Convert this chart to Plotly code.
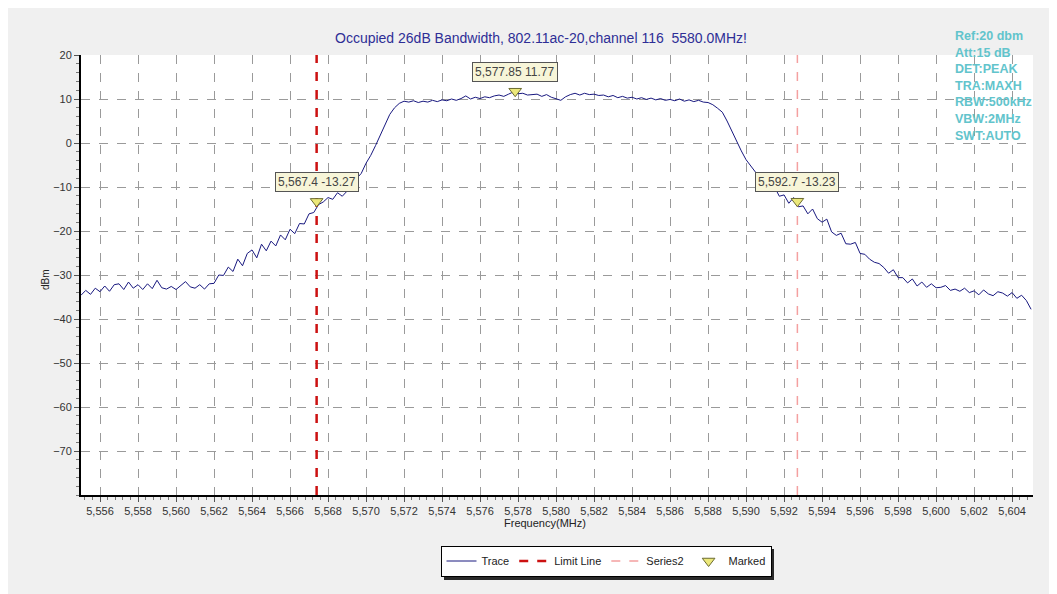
import plotly.graph_objects as go

# ---- data ----
freq_start = 5555.0
freq_step = 0.25
trace_dbm = [
    -34.6, -33.5, -34.4, -33.0,   # 5555
    -33.8, -32.5, -33.7, -32.2,   # 5556
    -32.0, -33.3, -31.6, -33.0,   # 5557
    -32.2, -33.3, -32.0, -33.1,   # 5558
    -31.2, -32.9, -33.2, -32.6,   # 5559
    -33.3, -32.4, -31.5, -32.7,   # 5560
    -33.0, -32.2, -33.2, -32.0,   # 5561
    -31.9, -30.0, -30.1, -28.2,   # 5562
    -29.2, -26.4, -27.9, -25.1,   # 5563
    -24.3, -26.1, -23.0, -24.5,   # 5564
    -22.3, -23.4, -20.9, -22.0,   # 5565
    -19.6, -20.6, -18.3, -18.4,   # 5566
    -16.1, -15.8, -14.0, -13.4,   # 5567
    -12.4, -12.8, -11.3, -12.1,   # 5568
    -11.0, -9.8, -8.1, -6.9,      # 5569
    -4.6, -2.8, -0.6, 1.8,        # 5570
    4.2, 6.5, 8.0, 9.0,           # 5571
    9.5, 9.3, 9.6, 9.2,           # 5572
    9.5, 9.3, 9.7, 9.4,           # 5573
    9.8, 9.6, 10.0, 9.7,          # 5574
    10.1, 10.7, 10.0, 10.4,       # 5575
    10.1, 10.5, 10.3, 10.7,       # 5576
    10.9, 10.6, 11.1, 11.6,       # 5577
    11.2, 11.3, 10.9, 11.0,       # 5578
    11.1, 10.6, 11.0, 10.4,       # 5579
    10.1, 9.7, 10.5, 11.0,        # 5580
    11.3, 10.9, 11.3, 11.0,       # 5581
    11.1, 10.8, 10.9, 10.5,       # 5582
    10.8, 10.3, 10.6, 10.2,       # 5583
    10.4, 10.0, 10.3, 9.9,        # 5584
    10.2, 9.8, 10.1, 9.7,         # 5585
    9.9, 9.6, 10.0, 9.5,          # 5586
    9.8, 9.4, 9.7, 9.3,           # 5587
    9.2, 8.7, 7.9, 7.0,           # 5588
    5.0, 2.6, 0.2, -1.8,          # 5589
    -3.8, -5.2, -6.6, -7.9,       # 5590
    -9.3, -10.9, -10.0, -12.1,    # 5591
    -11.8, -13.7, -12.4, -14.5,   # 5592
    -14.3, -16.1, -15.0, -17.2,   # 5593
    -18.0, -17.3, -20.2, -21.0,   # 5594
    -20.5, -22.9, -23.0, -22.6,   # 5595
    -25.1, -25.3, -26.4, -27.1,   # 5596
    -27.4, -28.3, -29.6, -28.8,   # 5597
    -30.6, -30.6, -31.8, -30.9,   # 5598
    -32.5, -31.6, -32.8, -32.0,   # 5599
    -32.9, -32.8, -32.4, -33.5,   # 5600
    -33.2, -33.7, -33.0, -34.0,   # 5601
    -33.6, -34.5, -33.4, -34.3,   # 5602
    -34.7, -33.8, -34.1, -34.8,   # 5603
    -34.0, -35.3, -34.6, -35.8,   # 5604
    -37.8,                        # 5605
]
trace_freq = [freq_start + freq_step * i for i in range(len(trace_dbm))]

limit_line_freq = 5567.4
series2_freq = 5592.7
marker_freq = [5567.4, 5577.85, 5592.7]
marker_dbm = [-13.27, 11.77, -13.23]

x_range = [5555.0, 5605.1]
y_range = [-80, 20]
y_ticks = [-70, -60, -50, -40, -30, -20, -10, 0, 10, 20]

title_text = "Occupied 26dB Bandwidth, 802.11ac-20,channel 116  5580.0MHz!"
info_lines = ["Ref:20 dbm", "Att:15 dB", "DET:PEAK", "TRA:MAXH",
              "RBW:500kHz", "VBW:2MHz", "SWT:AUTO"]

FONT = "Arial, Liberation Sans, sans-serif"
FW, FH = 1049, 586          # figure size (page has 8px body margin)
OFF = 8
L, R, T, B = 73, 24, 47, 99
PW, PH = FW - L - R, FH - T - B


def px(rx):
    return (rx - OFF - L) / PW


def py(ry):
    return (FH - B - (ry - OFF)) / PH


fig = go.Figure()
fig.add_trace(go.Scatter(x=trace_freq, y=trace_dbm, mode="lines", name="Trace",
                         line=dict(color="#18187f", width=1)))
fig.add_trace(go.Scatter(x=[limit_line_freq, limit_line_freq], y=y_range, mode="lines",
                         name="Limit Line", line=dict(color="#cc1111", width=2.5, dash="dash")))
fig.add_trace(go.Scatter(x=[series2_freq, series2_freq], y=y_range, mode="lines",
                         name="Series2", line=dict(color="#f4a0a0", width=1.5, dash="dash")))
fig.add_trace(go.Scatter(x=marker_freq, y=marker_dbm, mode="markers", name="Marked",
                         marker=dict(symbol="triangle-down", size=11, color="#ece87a",
                                     line=dict(color="#6b6b30", width=1))))

annotations = []
for fx, fy in zip(marker_freq, marker_dbm):
    annotations.append(dict(x=fx, y=fy, xref="x", yref="y", text=f"{fx:,} {fy}",
                            showarrow=False, yshift=19, bgcolor="#f7f5d8",
                            bordercolor="#555555", borderwidth=1, borderpad=2,
                            font=dict(family=FONT, size=12, color="#444444")))
for i, line in enumerate(info_lines):
    annotations.append(dict(x=px(953), y=py(36 + 16.6 * i), xref="paper", yref="paper",
                            xanchor="left", yanchor="middle", align="left", showarrow=False,
                            text=f"<b>{line}</b>",
                            font=dict(family=FONT, size=12.5, color="#62c4cc")))
annotations.append(dict(x=px(545), y=py(523), xref="paper", yref="paper",
                        showarrow=False, text="Frequency(MHz)", yanchor="middle",
                        font=dict(family=FONT, size=11, color="#222222")))
annotations.append(dict(x=px(45), y=py(280), xref="paper", yref="paper",
                        showarrow=False, text="dBm", textangle=-90,
                        xanchor="center", yanchor="middle",
                        font=dict(family=FONT, size=10, color="#222222")))

# legend drop shadow
shapes = [dict(type="rect", xref="paper", yref="paper",
               x0=px(444), x1=px(774), y0=py(580), y1=py(549),
               fillcolor="#2a2a2a", line=dict(width=0), layer="above")]

fig.update_layout(
    width=FW, height=FH,
    margin=dict(l=L, r=R, t=T, b=B),
    paper_bgcolor="#f0f0f0", plot_bgcolor="#ffffff",
    font=dict(family=FONT, size=11, color="#333333"),
    title=dict(text=title_text, x=(541 - OFF) / FW, xanchor="center",
               y=1 - (38 - OFF) / FH, yanchor="middle",
               font=dict(family=FONT, size=14, color="#2e2e96")),
    showlegend=True,
    legend=dict(orientation="h", x=px(606), xanchor="center", y=py(561), yanchor="middle",
                bgcolor="#ffffff", bordercolor="#000000", borderwidth=1,
                font=dict(family=FONT, size=11, color="#222222"),
                itemwidth=30, tracegroupgap=0),
    annotations=annotations,
    shapes=shapes,
)
fig.update_xaxes(range=x_range, tick0=5556, dtick=2, tickformat=",.0f",
                 showline=True, linecolor="#000000", linewidth=2,
                 ticks="outside", ticklen=5, tickcolor="#555555",
                 showgrid=True, gridcolor="#9a9a9a", griddash="dash", gridwidth=1,
                 zeroline=False,
                 minor=dict(dtick=0.4, ticks="outside", ticklen=3, tickcolor="#777777", showgrid=False),
                 tickfont=dict(family=FONT, size=11, color="#333333"))
fig.update_yaxes(range=y_range, tickvals=y_ticks,
                 showline=True, linecolor="#000000", linewidth=2,
                 ticks="outside", ticklen=5, tickcolor="#555555",
                 showgrid=True, gridcolor="#9a9a9a", griddash="dash", gridwidth=1,
                 zeroline=False,
                 minor=dict(dtick=2, ticks="outside", ticklen=3, tickcolor="#777777", showgrid=False),
                 tickfont=dict(family=FONT, size=11, color="#333333"))

fig.write_html("out.html")
